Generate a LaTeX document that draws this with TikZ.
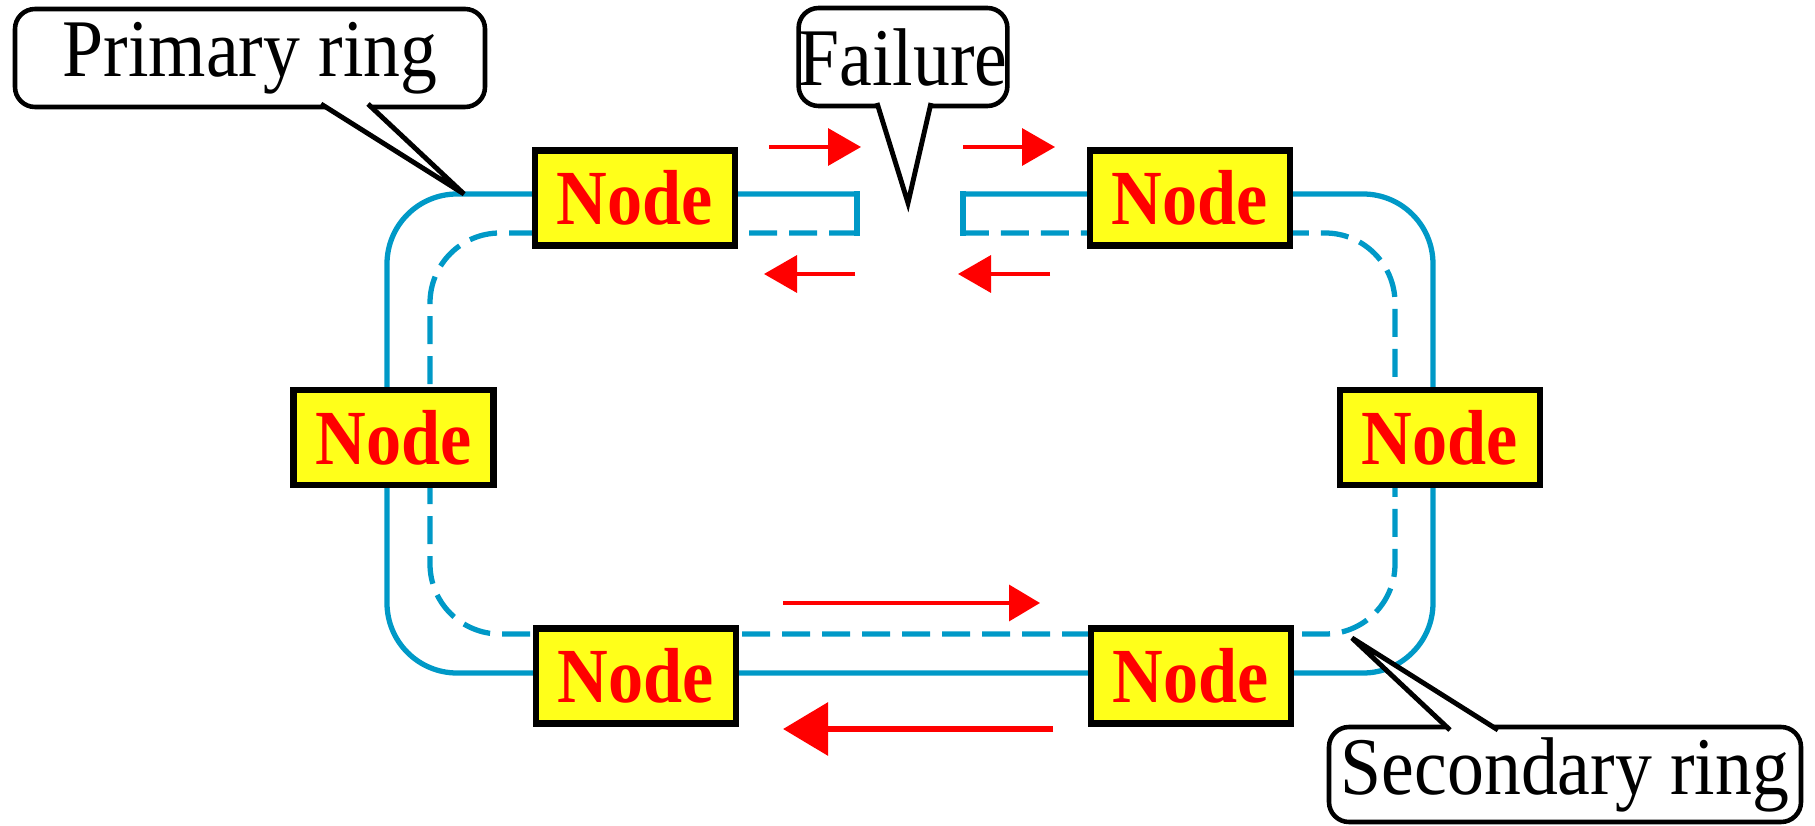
\documentclass[tikz,border=0pt]{standalone}
\usepackage{fontspec}
\setmainfont{Liberation Serif}[FakeStretch=0.9]
\usetikzlibrary{arrows.meta}
\definecolor{RingColor}{rgb}{0.0,0.6,0.78}
\definecolor{NodeColor}{HTML}{FFFF1A}
\definecolor{FlowColor}{HTML}{FF0000}
\tikzstyle{ring_node}=[rectangle,
                         minimum height=0.95cm,
                         minimum width=2.0cm,
                         inner sep=0pt,
                         draw=black,
                         line width=1.9pt,
                         fill=NodeColor,
                         text=FlowColor,
                         font=\fontsize{22.2}{26}\selectfont\bfseries, ]
\tikzstyle{callout_box}=[rectangle,
                         minimum height=0.98cm,
                         inner sep=0pt,
                         draw=black,
                         line width=1.3pt,
                         rounded corners=2mm,
                         fill=white,
                         font=\fontsize{23.3}{27}\selectfont, ]
\tikzstyle{callout_line}=[draw=black, line width=1.4pt, line join=miter]
\tikzstyle{primary_ring}=[draw=RingColor, line width=1.5pt]
\tikzstyle{secondary_ring}=[draw=RingColor, line width=1.5pt, dash pattern=on 2.8mm off 1.2mm]
\tikzstyle{flow}=[draw=FlowColor, line width=1pt, -{Triangle[length=3.3mm, width=3.7mm]}]

\begin{document}
\begin{tikzpicture}
    \useasboundingbox (0cm, 0cm) rectangle (18.15cm, 8.25cm);
    % ---------------------------------------------------------------------------------------------------------
    %  Ringen
    \draw[primary_ring, rounded corners=7mm] (8.57cm, 6.31cm) -- (3.87cm, 6.31cm) -- (3.87cm, 1.52cm)
        -- (14.33cm, 1.52cm) -- (14.33cm, 6.31cm) -- (9.63cm, 6.31cm);
    \draw[secondary_ring, rounded corners=7mm] (8.57cm, 5.92cm) -- (4.30cm, 5.92cm) -- (4.30cm, 1.91cm)
        -- (13.95cm, 1.91cm) -- (13.95cm, 5.92cm) -- (9.63cm, 5.92cm);
    \draw[primary_ring, line cap=rect] (8.57cm, 6.31cm) -- (8.57cm, 5.92cm);
    \draw[primary_ring, line cap=rect] (9.63cm, 6.31cm) -- (9.63cm, 5.92cm);

    \node at (6.35cm, 6.27cm) (N0) [ring_node] {Node};
    \node at (11.90cm, 6.27cm) (N1) [ring_node] {Node};
    \node at (3.935cm, 3.875cm) (N2) [ring_node] {Node};
    \node at (14.40cm, 3.875cm) (N3) [ring_node] {Node};
    \node at (6.36cm, 1.49cm) (N4) [ring_node] {Node};
    \node at (11.91cm, 1.49cm) (N5) [ring_node] {Node};

    % ---------------------------------------------------------------------------------------------------------
    %  Richting van het verkeer
    \coordinate (arrow-1-l) at (7.69cm, 6.78cm);
    \coordinate (arrow-1-r) at (8.61cm, 6.78cm);
    \coordinate (arrow-2-l) at (9.63cm, 6.78cm);
    \coordinate (arrow-2-r) at (10.55cm, 6.78cm);
    \coordinate (arrow-3-l) at (7.64cm, 5.51cm);
    \coordinate (arrow-3-r) at (8.55cm, 5.51cm);
    \coordinate (arrow-4-l) at (9.58cm, 5.51cm);
    \coordinate (arrow-4-r) at (10.50cm, 5.51cm);
    \coordinate (arrow-5-l) at (7.83cm, 2.22cm);
    \coordinate (arrow-5-r) at (10.40cm, 2.22cm);
    \coordinate (arrow-6-l) at (7.83cm, 0.96cm);
    \coordinate (arrow-6-r) at (10.53cm, 0.96cm);

    \draw[flow] (arrow-1-l) -- (arrow-1-r);
    \draw[flow] (arrow-2-l) -- (arrow-2-r);
    \draw[flow] (arrow-3-r) -- (arrow-3-l);
    \draw[flow] (arrow-4-r) -- (arrow-4-l);
    \draw[flow, line width=1.05pt, -{Triangle[length=3.1mm, width=3.6mm]}] (arrow-5-l) -- (arrow-5-r);
    \draw[flow, line width=1.8pt, -{Triangle[length=4.5mm, width=5.2mm]}] (arrow-6-r) -- (arrow-6-l);

    % ---------------------------------------------------------------------------------------------------------
    %  Labels
    \node at (2.50cm, 7.67cm) (CPrimary) [callout_box, minimum width=4.70cm] {Primary ring};
    \coordinate (tip-1) at (4.64cm, 6.31cm);
    \fill[white] (3.21cm, 7.22cm) -- (tip-1) -- (3.68cm, 7.22cm) -- cycle;
    \draw[callout_line] (3.21cm, 7.21cm) -- (tip-1) -- (3.68cm, 7.21cm);

    \node at (9.03cm, 7.68cm) (CFailure) [callout_box, minimum width=2.08cm] {Failure};
    \coordinate (tip-2) at (9.08cm, 6.22cm);
    \fill[white] (8.77cm, 7.23cm) -- (tip-2) -- (9.31cm, 7.23cm) -- cycle;
    \draw[callout_line] (8.77cm, 7.22cm) -- (tip-2) -- (9.31cm, 7.22cm);

    \node at (15.65cm, 0.505cm) (CSecondary) [callout_box, minimum width=4.72cm, minimum height=0.95cm] {Secondary ring};
    \coordinate (tip-3) at (13.52cm, 1.87cm);
    \fill[white] (14.50cm, 0.94cm) -- (tip-3) -- (14.98cm, 0.94cm) -- cycle;
    \draw[callout_line] (14.50cm, 0.95cm) -- (tip-3) -- (14.98cm, 0.95cm);
\end{tikzpicture}
\end{document}
